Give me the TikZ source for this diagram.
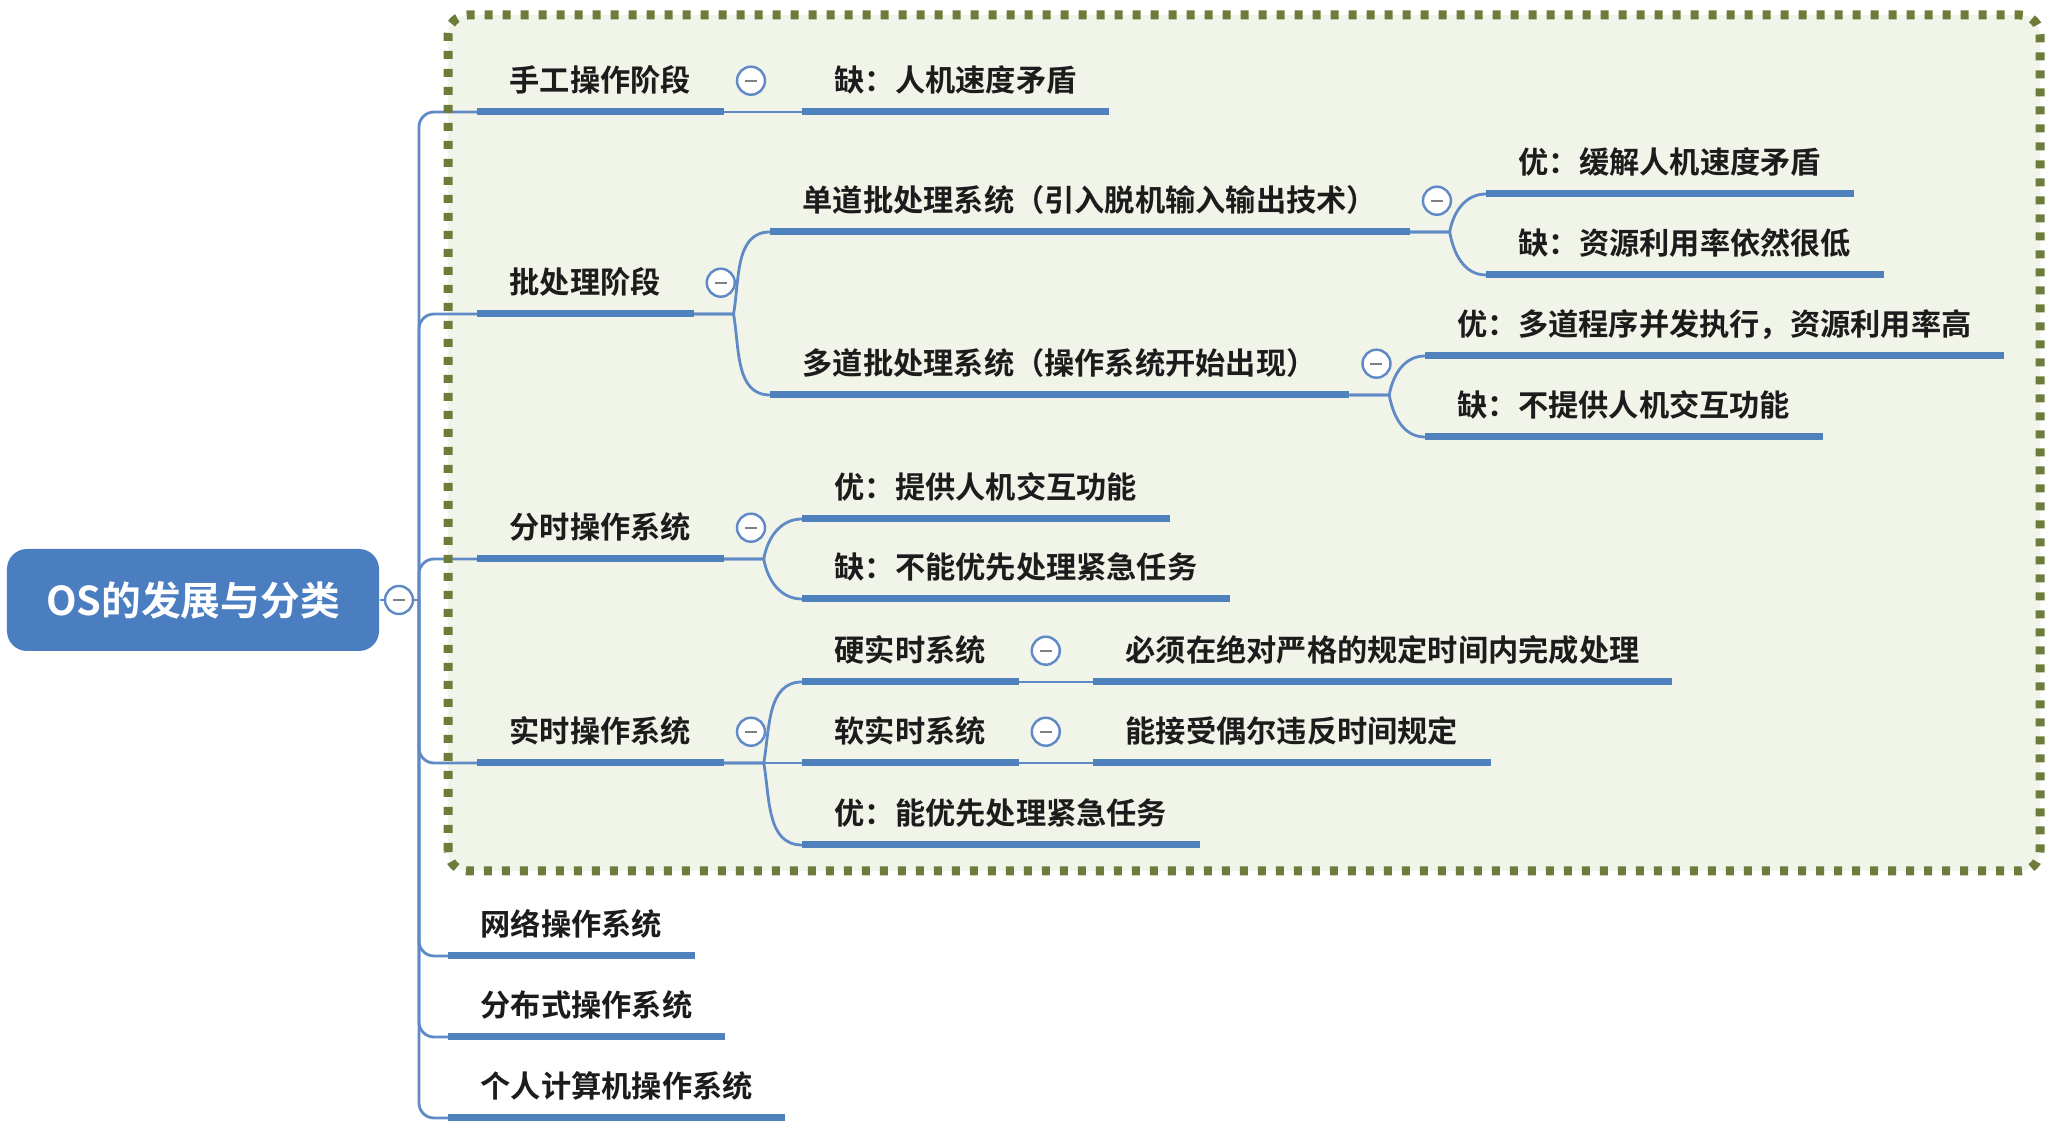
\documentclass[tikz,border=0pt]{standalone}
\usepackage{fontspec}
\setmainfont{Noto Sans CJK SC}[BoldFont={Noto Sans CJK SC Bold}]
\usetikzlibrary{positioning}
\definecolor{barblue}{RGB}{79,129,189}
\definecolor{linkblue}{RGB}{96,138,198}
\definecolor{rootblue}{RGB}{74,126,193}
\definecolor{boxfill}{RGB}{241,244,233}
\definecolor{boxline}{RGB}{109,124,58}
\definecolor{txt}{RGB}{28,28,28}
\begin{document}
\begin{tikzpicture}[
	item/.style={anchor=south west, inner xsep=0.32cm, inner ysep=0.13cm,
		text height=0.8em, text depth=0.2em, text=txt,
		font=\fontsize{8.6pt}{10pt}\selectfont\bfseries},
	rootnode/.style={fill=rootblue, rounded corners=0.2cm, minimum width=3.72cm,
		minimum height=1.02cm, text=white, font=\fontsize{11.3pt}{13pt}\selectfont\bfseries},
	bar/.style={barblue, line width=0.07cm},
	link/.style={linkblue, line width=0.8pt},
	toggle/.style={circle, draw=linkblue, fill=white, line width=0.7pt,
		minimum size=0.28cm, inner sep=0pt,
		path picture={\draw[gray, line width=0.6pt]
			([xshift=-0.06cm]path picture bounding box.center) -- ++(0.12,0);}}
]
	\useasboundingbox (0,0) rectangle (20.64,11.26);
	% Rahmen
	\fill[boxfill, rounded corners=0.2cm] (4.48,2.55) rectangle (20.40,11.11);
	% Wurzel
	\node[rootnode] (os) at (1.93,5.26) {OS的发展与分类};
	\coordinate (trunk) at (4.19,5.26);
	% Ebene 1
	\node[item] (l1a) at (4.77,10.14) {手工操作阶段};
	\node[item] (l1b) at (4.77,8.12) {批处理阶段};
	\node[item] (l1c) at (4.77,5.67) {分时操作系统};
	\node[item] (l1d) at (4.77,3.63) {实时操作系统};
	\node[item] (l1e) at (4.48,1.70) {网络操作系统};
	\node[item] (l1f) at (4.48,0.89) {分布式操作系统};
	\node[item] (l1g) at (4.48,0.08) {个人计算机操作系统};
	% Ebene 2
	\node[item] (l2a) at (8.02,10.14) {缺：人机速度矛盾};
	\node[item] (l2b) at (7.70,8.94) {单道批处理系统（引入脱机输入输出技术）};
	\node[item] (l2c) at (7.70,7.31) {多道批处理系统（操作系统开始出现）};
	\node[item] (l2d) at (8.02,6.07) {优：提供人机交互功能};
	\node[item] (l2e) at (8.02,5.27) {缺：不能优先处理紧急任务};
	\node[item] (l2f) at (8.02,4.44) {硬实时系统};
	\node[item] (l2g) at (8.02,3.63) {软实时系统};
	\node[item] (l2h) at (8.02,2.81) {优：能优先处理紧急任务};
	% Ebene 3
	\node[item] (l3a) at (14.86,9.32) {优：缓解人机速度矛盾};
	\node[item] (l3b) at (14.86,8.51) {缺：资源利用率依然很低};
	\node[item] (l3c) at (14.25,7.70) {优：多道程序并发执行，资源利用率高};
	\node[item] (l3d) at (14.25,6.89) {缺：不提供人机交互功能};
	\node[item] (l3e) at (10.93,4.44) {必须在绝对严格的规定时间内完成处理};
	\node[item] (l3f) at (10.93,3.63) {能接受偶尔违反时间规定};
	% Verbindungen
	\draw[link] (os.east) -- (trunk);
	\foreach \n in {l1a,l1b,l1c,l1d,l1e,l1f,l1g}
		\draw[link, rounded corners=0.15cm] (trunk) |- (\n.south west);
	\draw[link] (l1a.south east) -- (l2a.south west);
	\draw[link] (l1b.south east) -- ++(0.4,0) to[out=80,in=180] (l2b.south west);
	\draw[link] (l1b.south east) -- ++(0.4,0) to[out=-80,in=180] (l2c.south west);
	\draw[link] (l1c.south east) -- ++(0.4,0) to[out=80,in=180] (l2d.south west);
	\draw[link] (l1c.south east) -- ++(0.4,0) to[out=-80,in=180] (l2e.south west);
	\draw[link] (l1d.south east) -- ++(0.4,0) to[out=80,in=180] (l2f.south west);
	\draw[link] (l1d.south east) -- (l2g.south west);
	\draw[link] (l1d.south east) -- ++(0.4,0) to[out=-80,in=180] (l2h.south west);
	\draw[link] (l2b.south east) -- ++(0.4,0) to[out=80,in=180] (l3a.south west);
	\draw[link] (l2b.south east) -- ++(0.4,0) to[out=-80,in=180] (l3b.south west);
	\draw[link] (l2c.south east) -- ++(0.4,0) to[out=80,in=180] (l3c.south west);
	\draw[link] (l2c.south east) -- ++(0.4,0) to[out=-80,in=180] (l3d.south west);
	\draw[link] (l2f.south east) -- (l3e.south west);
	\draw[link] (l2g.south east) -- (l3f.south west);
	% Balken
	\foreach \n in {l1a,l1b,l1c,l1d,l1e,l1f,l1g,l2a,l2b,l2c,l2d,l2e,l2f,l2g,l2h,l3a,l3b,l3c,l3d,l3e,l3f}
		\draw[bar] (\n.south west) -- (\n.south east);
	% Knoepfe
	\node[toggle] (t0) at (3.99,5.26) {};
	\node[toggle, right=0.12cm of l1a.east] (t1a) {};
	\node[toggle, right=0.12cm of l1b.east] (t1b) {};
	\node[toggle, right=0.12cm of l1c.east] (t1c) {};
	\node[toggle, right=0.12cm of l1d.east] (t1d) {};
	\node[toggle, right=0.12cm of l2b.east] (t2b) {};
	\node[toggle, right=0.12cm of l2c.east] (t2c) {};
	\node[toggle, right=0.12cm of l2f.east] (t2f) {};
	\node[toggle, right=0.12cm of l2g.east] (t2g) {};
	% Rand
	\draw[boxline, line width=0.09cm, dash pattern=on 0.08cm off 0.1cm, rounded corners=0.2cm]
		(4.48,2.55) rectangle (20.40,11.11);
\end{tikzpicture}
\end{document}
